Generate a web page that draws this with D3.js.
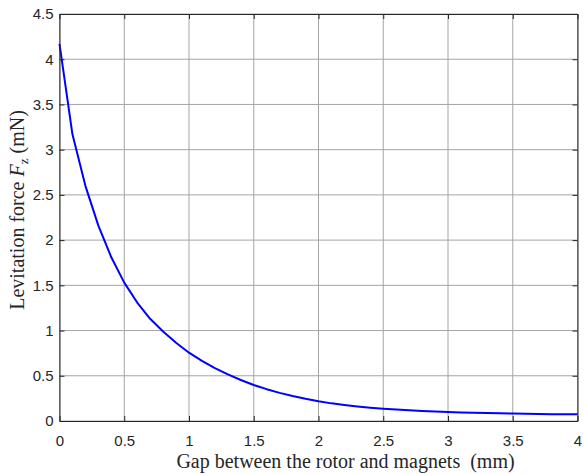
<!DOCTYPE html>
<html>
<head>
<meta charset="utf-8">
<script src="https://cdn.jsdelivr.net/npm/d3@7"></script>
<style>
  html, body { margin: 0; padding: 0; background: #fff; }
  svg { display: block; }
  text { white-space: pre; }
</style>
</head>
<body>
<svg id="chart" width="584" height="474"></svg>
<script>
// Gap between rotor and magnets (mm)
const gap = [0, 0.1, 0.2, 0.3, 0.4, 0.5, 0.6, 0.7, 0.8, 0.9,
             1.0, 1.1, 1.2, 1.3, 1.4, 1.5, 1.6, 1.7, 1.8, 1.9,
             2.0, 2.1, 2.2, 2.3, 2.4, 2.5, 2.6, 2.7, 2.8, 2.9,
             3.0, 3.1, 3.2, 3.3, 3.4, 3.5, 3.6, 3.7, 3.8, 3.9, 4.0];
// Levitation force Fz (mN)
const force = [4.17, 3.17, 2.60, 2.16, 1.81, 1.53, 1.31, 1.13, 0.99, 0.865,
               0.755, 0.665, 0.585, 0.515, 0.453, 0.398, 0.352, 0.311, 0.276, 0.245,
               0.218, 0.195, 0.176, 0.16, 0.147, 0.136, 0.126, 0.118, 0.111, 0.105,
               0.1, 0.095, 0.091, 0.088, 0.085, 0.082, 0.08, 0.078, 0.076, 0.075, 0.074];

const xTicks = [0, 0.5, 1, 1.5, 2, 2.5, 3, 3.5, 4];
const xTickLabels = ["0", "0.5", "1", "1.5", "2", "2.5", "3", "3.5", "4"];
const yTicks = [0, 0.5, 1, 1.5, 2, 2.5, 3, 3.5, 4, 4.5];
const yTickLabels = ["0", "0.5", "1", "1.5", "2", "2.5", "3", "3.5", "4", "4.5"];

const plotLeft = 59.5, plotRight = 577.5, plotTop = 14, plotBottom = 421;
const svg = d3.select("#chart");

const x = d3.scaleLinear().domain([0, 4]).range([plotLeft, plotRight]);
const y = d3.scaleLinear().domain([0, 4.5]).range([plotBottom, plotTop]);

const axisColor = "#262626";
const gridColor = "#a4a4a4";
const tickFont = "'Liberation Sans', Arial, sans-serif";
const titleFont = "'Liberation Serif', 'Times New Roman', serif";

// grid
const grid = svg.append("g");
grid.selectAll("line.gx").data(xTicks).join("line")
  .attr("x1", d => x(d)).attr("x2", d => x(d))
  .attr("y1", plotTop).attr("y2", plotBottom)
  .attr("stroke", gridColor).attr("stroke-width", 1);
grid.selectAll("line.gy").data(yTicks).join("line")
  .attr("x1", plotLeft).attr("x2", plotRight)
  .attr("y1", d => y(d)).attr("y2", d => y(d))
  .attr("stroke", gridColor).attr("stroke-width", 1);

// curve
const line = d3.line().x((d, i) => x(gap[i])).y(d => y(d));
svg.append("path")
  .datum(force)
  .attr("d", line)
  .attr("fill", "none")
  .attr("stroke", "#0000ff")
  .attr("stroke-width", 2)
  .attr("stroke-linejoin", "round");

// axes: inward ticks on all four sides, labels on bottom and left
function styleAxis(g) {
  g.select(".domain").attr("stroke", axisColor).attr("stroke-width", 1);
  g.selectAll(".tick line").attr("stroke", axisColor).attr("stroke-width", 1);
  g.selectAll(".tick text").attr("fill", axisColor)
    .attr("font-family", tickFont).attr("font-size", 15);
}

svg.append("g").attr("transform", `translate(0,${plotBottom})`)
  .call(d3.axisBottom(x).tickValues(xTicks).tickFormat((d, i) => xTickLabels[i])
    .tickSizeInner(-5).tickSizeOuter(0).tickPadding(14))
  .call(styleAxis);
svg.append("g").attr("transform", `translate(0,${plotTop})`)
  .call(d3.axisTop(x).tickValues(xTicks).tickFormat("")
    .tickSizeInner(-5).tickSizeOuter(0))
  .call(styleAxis);
svg.append("g").attr("transform", `translate(${plotLeft},0)`)
  .call(d3.axisLeft(y).tickValues(yTicks).tickFormat((d, i) => yTickLabels[i])
    .tickSizeInner(-5).tickSizeOuter(0).tickPadding(6))
  .call(styleAxis);
svg.append("g").attr("transform", `translate(${plotRight},0)`)
  .call(d3.axisRight(y).tickValues(yTicks).tickFormat("")
    .tickSizeInner(-5).tickSizeOuter(0))
  .call(styleAxis);

// axis titles
svg.append("text")
  .attr("x", 345.5).attr("y", 468)
  .attr("text-anchor", "middle")
  .attr("font-family", titleFont).attr("font-size", 20)
  .attr("fill", axisColor)
  .text("Gap between the rotor and magnets  (mm)");

const yTitle = svg.append("text")
  .attr("transform", "translate(24,210) rotate(-90)")
  .attr("text-anchor", "middle")
  .attr("font-family", titleFont).attr("font-size", 20)
  .attr("fill", axisColor);
yTitle.append("tspan").text("Levitation force ");
yTitle.append("tspan").attr("font-style", "italic").text("F");
yTitle.append("tspan").attr("font-size", 13).attr("dy", 4).text("z");
yTitle.append("tspan").attr("dy", -4).text(" (mN)");
</script>
</body>
</html>
